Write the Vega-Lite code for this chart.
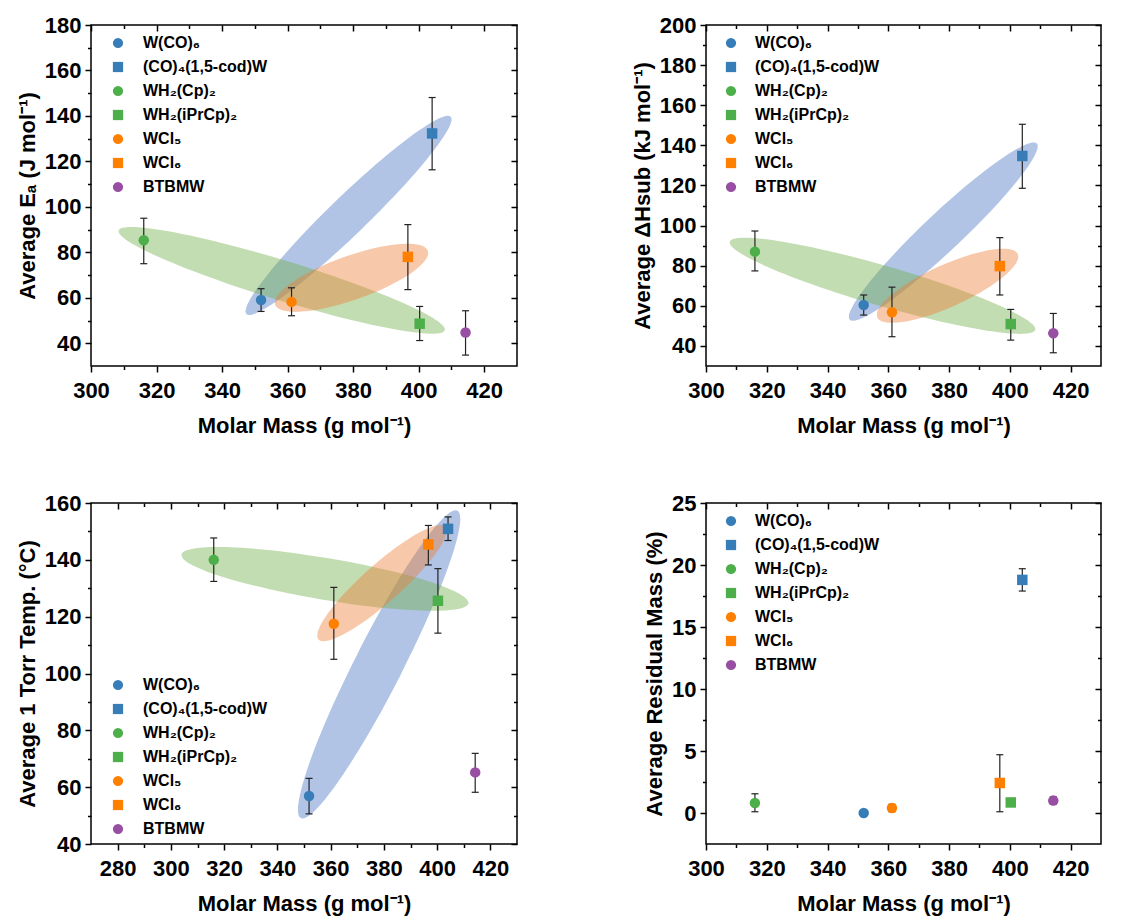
{
 "$schema": "https://vega.github.io/schema/vega-lite/v6.json",
 "background": "white",
 "padding": {"left": 15, "top": 13, "right": 5, "bottom": 5},
 "config": {
  "font": "Liberation Sans",
  "view": {"stroke": "black", "strokeWidth": 1.5},
  "axis": {"grid": false, "domain": false, "labelFont": "Liberation Sans", "labelFontSize": 22, "labelFontWeight": "bold", "labelColor": "black", "titleFont": "Liberation Sans", "titleFontSize": 22, "titleFontWeight": "bold", "titleColor": "black", "tickColor": "black", "tickWidth": 1.5, "labelFlush": false, "labelOverlap": false},
  "legend": {"title": null, "labelFont": "Liberation Sans", "labelFontSize": 16, "labelFontWeight": "bold", "labelColor": "black", "rowPadding": 8, "labelOffset": 17, "symbolSize": 105, "padding": 0, "symbolStrokeWidth": 0}
 },
 "datasets": {
  "pts": [
   {"panel": "Ea", "compound": "W(CO)₆", "mm": 351.9, "val": 59, "lo": 54, "hi": 64},
   {"panel": "Ea", "compound": "(CO)₄(1,5-cod)W", "mm": 404.1, "val": 132.3, "lo": 116.3, "hi": 148.1},
   {"panel": "Ea", "compound": "WH₂(Cp)₂", "mm": 316.1, "val": 85.3, "lo": 75, "hi": 95},
   {"panel": "Ea", "compound": "WH₂(iPrCp)₂", "mm": 400.3, "val": 48.6, "lo": 41.2, "hi": 56.2},
   {"panel": "Ea", "compound": "WCl₅", "mm": 361.2, "val": 58.2, "lo": 52.1, "hi": 64.4},
   {"panel": "Ea", "compound": "WCl₆", "mm": 396.7, "val": 78, "lo": 63.6, "hi": 92.2},
   {"panel": "Ea", "compound": "BTBMW", "mm": 414.3, "val": 44.7, "lo": 34.8, "hi": 54.3},
   {"panel": "dH", "compound": "W(CO)₆", "mm": 351.9, "val": 60.4, "lo": 55.4, "hi": 65.4},
   {"panel": "dH", "compound": "(CO)₄(1,5-cod)W", "mm": 404.1, "val": 134.7, "lo": 118.6, "hi": 150.5},
   {"panel": "dH", "compound": "WH₂(Cp)₂", "mm": 316.1, "val": 87, "lo": 77.4, "hi": 97.3},
   {"panel": "dH", "compound": "WH₂(iPrCp)₂", "mm": 400.3, "val": 50.9, "lo": 42.9, "hi": 58.2},
   {"panel": "dH", "compound": "WCl₅", "mm": 361.2, "val": 56.8, "lo": 44.6, "hi": 69.3},
   {"panel": "dH", "compound": "WCl₆", "mm": 396.7, "val": 79.8, "lo": 65.4, "hi": 94},
   {"panel": "dH", "compound": "BTBMW", "mm": 414.3, "val": 46.3, "lo": 36.6, "hi": 56.2},
   {"panel": "Torr", "compound": "W(CO)₆", "mm": 351.9, "val": 56.9, "lo": 50.6, "hi": 63.1},
   {"panel": "Torr", "compound": "(CO)₄(1,5-cod)W", "mm": 404.1, "val": 150.9, "lo": 146.8, "hi": 155.1},
   {"panel": "Torr", "compound": "WH₂(Cp)₂", "mm": 316.1, "val": 140, "lo": 132.4, "hi": 147.7},
   {"panel": "Torr", "compound": "WH₂(iPrCp)₂", "mm": 400.3, "val": 125.6, "lo": 114.2, "hi": 136.9},
   {"panel": "Torr", "compound": "WCl₅", "mm": 361.2, "val": 117.5, "lo": 105, "hi": 130.3},
   {"panel": "Torr", "compound": "WCl₆", "mm": 396.7, "val": 145.4, "lo": 138.2, "hi": 152.1},
   {"panel": "Torr", "compound": "BTBMW", "mm": 414.3, "val": 65.2, "lo": 58.2, "hi": 71.9},
   {"panel": "Res", "compound": "W(CO)₆", "mm": 351.9, "val": 0, "lo": 0, "hi": 0},
   {"panel": "Res", "compound": "(CO)₄(1,5-cod)W", "mm": 404.1, "val": 18.8, "lo": 17.9, "hi": 19.7},
   {"panel": "Res", "compound": "WH₂(Cp)₂", "mm": 316.1, "val": 0.8, "lo": 0.1, "hi": 1.55},
   {"panel": "Res", "compound": "WH₂(iPrCp)₂", "mm": 400.3, "val": 0.85, "lo": 0.65, "hi": 1.05},
   {"panel": "Res", "compound": "WCl₅", "mm": 361.2, "val": 0.4, "lo": 0.1, "hi": 0.7},
   {"panel": "Res", "compound": "WCl₆", "mm": 396.7, "val": 2.42, "lo": 0.1, "hi": 4.7},
   {"panel": "Res", "compound": "BTBMW", "mm": 414.3, "val": 1.0, "lo": 0.7, "hi": 1.3}
  ],
  "ell": [
   {"panel": "Ea", "group": "carbonyl", "cx": 378.6, "cy": 96.3},
   {"panel": "Ea", "group": "hydride", "cx": 358.2, "cy": 67.7},
   {"panel": "Ea", "group": "chloride", "cx": 379.5, "cy": 68.8},
   {"panel": "dH", "group": "carbonyl", "cx": 378.1, "cy": 97},
   {"panel": "dH", "group": "hydride", "cx": 358.1, "cy": 70},
   {"panel": "dH", "group": "chloride", "cx": 379.5, "cy": 70},
   {"panel": "Torr", "group": "carbonyl", "cx": 378.2, "cy": 103.2},
   {"panel": "Torr", "group": "hydride", "cx": 357.9, "cy": 133.3},
   {"panel": "Torr", "group": "chloride", "cx": 379.3, "cy": 131.8}
  ]
 },
 "columns": 2,
 "spacing": {"row": 137, "column": 189},
 "bounds": "flush",
 "align": "each",
 "resolve": {"scale": {"x": "independent", "y": "independent", "color": "independent", "shape": "independent"}, "legend": {"color": "independent", "shape": "independent"}},
 "concat": [
  {
   "width": 426, "height": 341,
   "resolve": {"axis": {"x": "independent", "y": "independent"}},
   "layer": [
    {"data": {"name": "ell"}, "transform": [{"filter": "datum.panel==='Ea' && datum.group==='carbonyl'"}],
     "mark": {"type": "point", "shape": "M 1 0 C 1 0.074 0.5523 0.134 0 0.134 C -0.5523 0.134 -1 0.074 -1 0 C -1 -0.074 -0.5523 -0.134 0 -0.134 C 0.5523 -0.134 1 -0.074 1 0 Z", "size": 80656, "angle": 316, "filled": true, "color": "#4472C4", "opacity": 0.42, "strokeWidth": 0},
     "encoding": {"x": {"field": "cx", "type": "quantitative", "scale": {"domain": [300, 430], "nice": false, "zero": false}, "axis": null}, "y": {"field": "cy", "type": "quantitative", "scale": {"domain": [30, 180], "nice": false, "zero": false}, "axis": null}}},
    {"data": {"name": "ell"}, "transform": [{"filter": "datum.panel==='Ea' && datum.group==='hydride'"}],
     "mark": {"type": "point", "shape": "M 1 0 C 1 0.0646 0.5523 0.117 0 0.117 C -0.5523 0.117 -1 0.0646 -1 0 C -1 -0.0646 -0.5523 -0.117 0 -0.117 C 0.5523 -0.117 1 -0.0646 1 0 Z", "size": 116281, "angle": 17, "filled": true, "color": "#70AD47", "opacity": 0.42, "strokeWidth": 0},
     "encoding": {"x": {"field": "cx", "type": "quantitative", "axis": null}, "y": {"field": "cy", "type": "quantitative", "axis": null}}},
    {"data": {"name": "ell"}, "transform": [{"filter": "datum.panel==='Ea' && datum.group==='chloride'"}],
     "mark": {"type": "point", "shape": "M 1 0 C 1 0.1502 0.5523 0.272 0 0.272 C -0.5523 0.272 -1 0.1502 -1 0 C -1 -0.1502 -0.5523 -0.272 0 -0.272 C 0.5523 -0.272 1 -0.1502 1 0 Z", "size": 26244, "angle": 340.5, "filled": true, "color": "#ED7D31", "opacity": 0.42, "strokeWidth": 0},
     "encoding": {"x": {"field": "cx", "type": "quantitative", "axis": null}, "y": {"field": "cy", "type": "quantitative", "axis": null}}},
    {"data": {"name": "pts"}, "transform": [{"filter": "datum.panel==='Ea'"}],
     "mark": {"type": "rule", "color": "#222", "strokeWidth": 1.2},
     "encoding": {"x": {"field": "mm", "type": "quantitative", "axis": {"orient": "top", "values": [300, 320, 340, 360, 380, 400, 420], "tickSize": -6, "labels": false, "title": null}},
                  "y": {"field": "lo", "type": "quantitative", "axis": {"orient": "right", "values": [40, 60, 80, 100, 120, 140, 160, 180], "tickSize": -6, "labels": false, "title": null}},
                  "y2": {"field": "hi"}}},
    {"data": {"name": "pts"}, "transform": [{"filter": "datum.panel==='Ea'"}],
     "mark": {"type": "point", "shape": "stroke", "size": 49, "filled": false, "color": "#222", "strokeWidth": 1.2, "opacity": 1},
     "encoding": {"x": {"field": "mm", "type": "quantitative", "axis": {"orient": "bottom", "values": [310, 330, 350, 370, 390, 410], "tickSize": 3.5, "labels": false, "title": null}},
                  "y": {"field": "lo", "type": "quantitative", "axis": {"orient": "left", "values": [50, 70, 90, 110, 130, 150, 170], "tickSize": 3.5, "labels": false, "title": null}}}},
    {"data": {"name": "pts"}, "transform": [{"filter": "datum.panel==='Ea'"}],
     "mark": {"type": "point", "shape": "stroke", "size": 49, "filled": false, "color": "#222", "strokeWidth": 1.2, "opacity": 1},
     "encoding": {"x": {"field": "mm", "type": "quantitative", "axis": {"orient": "top", "values": [310, 330, 350, 370, 390, 410], "tickSize": -3.5, "labels": false, "title": null}},
                  "y": {"field": "hi", "type": "quantitative", "axis": {"orient": "right", "values": [50, 70, 90, 110, 130, 150, 170], "tickSize": -3.5, "labels": false, "title": null}}}},
    {"data": {"name": "pts"}, "transform": [{"filter": "datum.panel==='Ea'"}],
     "mark": {"type": "point", "filled": true, "size": 110, "opacity": 1, "strokeWidth": 0},
     "encoding": {"x": {"field": "mm", "type": "quantitative", "axis": {"orient": "bottom", "values": [300, 320, 340, 360, 380, 400, 420], "tickSize": 6, "labelPadding": 8, "title": "Molar Mass (g mol⁻¹)", "titlePadding": 14}},
                  "y": {"field": "val", "type": "quantitative", "axis": {"orient": "left", "values": [40, 60, 80, 100, 120, 140, 160, 180], "tickSize": 6, "labelPadding": 4, "title": "Average Eₐ (J mol⁻¹)", "titlePadding": 5}},
                  "color": {"field": "compound", "type": "nominal", "scale": {"domain": ["W(CO)₆", "(CO)₄(1,5-cod)W", "WH₂(Cp)₂", "WH₂(iPrCp)₂", "WCl₅", "WCl₆", "BTBMW"], "range": ["#377eb8", "#377eb8", "#4daf4a", "#4daf4a", "#ff7f00", "#ff7f00", "#984ea3"]}, "legend": {"orient": "none", "legendX": 19, "legendY": 10}},
                  "shape": {"field": "compound", "type": "nominal", "scale": {"domain": ["W(CO)₆", "(CO)₄(1,5-cod)W", "WH₂(Cp)₂", "WH₂(iPrCp)₂", "WCl₅", "WCl₆", "BTBMW"], "range": ["circle", "square", "circle", "square", "circle", "square", "circle"]}, "legend": {"orient": "none", "legendX": 19, "legendY": 10}}}}
   ]
  },
  {
   "width": 395, "height": 341,
   "resolve": {"axis": {"x": "independent", "y": "independent"}},
   "layer": [
    {"data": {"name": "ell"}, "transform": [{"filter": "datum.panel==='dH' && datum.group==='carbonyl'"}],
     "mark": {"type": "point", "shape": "M 1 0 C 1 0.0817 0.5523 0.148 0 0.148 C -0.5523 0.148 -1 0.0817 -1 0 C -1 -0.0817 -0.5523 -0.148 0 -0.148 C 0.5523 -0.148 1 -0.0817 1 0 Z", "size": 66049, "angle": 316.7, "filled": true, "color": "#4472C4", "opacity": 0.42, "strokeWidth": 0},
     "encoding": {"x": {"field": "cx", "type": "quantitative", "scale": {"domain": [300, 430], "nice": false, "zero": false}, "axis": null}, "y": {"field": "cy", "type": "quantitative", "scale": {"domain": [30, 200], "nice": false, "zero": false}, "axis": null}}},
    {"data": {"name": "ell"}, "transform": [{"filter": "datum.panel==='dH' && datum.group==='hydride'"}],
     "mark": {"type": "point", "shape": "M 1 0 C 1 0.0696 0.5523 0.126 0 0.126 C -0.5523 0.126 -1 0.0696 -1 0 C -1 -0.0696 -0.5523 -0.126 0 -0.126 C 0.5523 -0.126 1 -0.0696 1 0 Z", "size": 101124, "angle": 16.1, "filled": true, "color": "#70AD47", "opacity": 0.42, "strokeWidth": 0},
     "encoding": {"x": {"field": "cx", "type": "quantitative", "axis": null}, "y": {"field": "cy", "type": "quantitative", "axis": null}}},
    {"data": {"name": "ell"}, "transform": [{"filter": "datum.panel==='dH' && datum.group==='chloride'"}],
     "mark": {"type": "point", "shape": "M 1 0 C 1 0.1508 0.5523 0.273 0 0.273 C -0.5523 0.273 -1 0.1508 -1 0 C -1 -0.1508 -0.5523 -0.273 0 -0.273 C 0.5523 -0.273 1 -0.1508 1 0 Z", "size": 23716, "angle": 335.7, "filled": true, "color": "#ED7D31", "opacity": 0.42, "strokeWidth": 0},
     "encoding": {"x": {"field": "cx", "type": "quantitative", "axis": null}, "y": {"field": "cy", "type": "quantitative", "axis": null}}},
    {"data": {"name": "pts"}, "transform": [{"filter": "datum.panel==='dH'"}],
     "mark": {"type": "rule", "color": "#222", "strokeWidth": 1.2},
     "encoding": {"x": {"field": "mm", "type": "quantitative", "axis": {"orient": "top", "values": [300, 320, 340, 360, 380, 400, 420], "tickSize": -6, "labels": false, "title": null}},
                  "y": {"field": "lo", "type": "quantitative", "axis": {"orient": "right", "values": [40, 60, 80, 100, 120, 140, 160, 180, 200], "tickSize": -6, "labels": false, "title": null}},
                  "y2": {"field": "hi"}}},
    {"data": {"name": "pts"}, "transform": [{"filter": "datum.panel==='dH'"}],
     "mark": {"type": "point", "shape": "stroke", "size": 49, "filled": false, "color": "#222", "strokeWidth": 1.2, "opacity": 1},
     "encoding": {"x": {"field": "mm", "type": "quantitative", "axis": {"orient": "bottom", "values": [310, 330, 350, 370, 390, 410], "tickSize": 3.5, "labels": false, "title": null}},
                  "y": {"field": "lo", "type": "quantitative", "axis": {"orient": "left", "values": [50, 70, 90, 110, 130, 150, 170, 190], "tickSize": 3.5, "labels": false, "title": null}}}},
    {"data": {"name": "pts"}, "transform": [{"filter": "datum.panel==='dH'"}],
     "mark": {"type": "point", "shape": "stroke", "size": 49, "filled": false, "color": "#222", "strokeWidth": 1.2, "opacity": 1},
     "encoding": {"x": {"field": "mm", "type": "quantitative", "axis": {"orient": "top", "values": [310, 330, 350, 370, 390, 410], "tickSize": -3.5, "labels": false, "title": null}},
                  "y": {"field": "hi", "type": "quantitative", "axis": {"orient": "right", "values": [50, 70, 90, 110, 130, 150, 170, 190], "tickSize": -3.5, "labels": false, "title": null}}}},
    {"data": {"name": "pts"}, "transform": [{"filter": "datum.panel==='dH'"}],
     "mark": {"type": "point", "filled": true, "size": 110, "opacity": 1, "strokeWidth": 0},
     "encoding": {"x": {"field": "mm", "type": "quantitative", "axis": {"orient": "bottom", "values": [300, 320, 340, 360, 380, 400, 420], "tickSize": 6, "labelPadding": 8, "title": "Molar Mass (g mol⁻¹)", "titlePadding": 14}},
                  "y": {"field": "val", "type": "quantitative", "axis": {"orient": "left", "values": [40, 60, 80, 100, 120, 140, 160, 180, 200], "tickSize": 6, "labelPadding": 4, "title": "Average ΔHsub (kJ mol⁻¹)", "titlePadding": 5}},
                  "color": {"field": "compound", "type": "nominal", "scale": {"domain": ["W(CO)₆", "(CO)₄(1,5-cod)W", "WH₂(Cp)₂", "WH₂(iPrCp)₂", "WCl₅", "WCl₆", "BTBMW"], "range": ["#377eb8", "#377eb8", "#4daf4a", "#4daf4a", "#ff7f00", "#ff7f00", "#984ea3"]}, "legend": {"orient": "none", "legendX": 17, "legendY": 10, "labelOffset": 16}},
                  "shape": {"field": "compound", "type": "nominal", "scale": {"domain": ["W(CO)₆", "(CO)₄(1,5-cod)W", "WH₂(Cp)₂", "WH₂(iPrCp)₂", "WCl₅", "WCl₆", "BTBMW"], "range": ["circle", "square", "circle", "square", "circle", "square", "circle"]}, "legend": {"orient": "none", "legendX": 17, "legendY": 10, "labelOffset": 16}}}}
   ]
  },
  {
   "width": 426, "height": 341,
   "resolve": {"axis": {"x": "independent", "y": "independent"}},
   "layer": [
    {"data": {"name": "ell"}, "transform": [{"filter": "datum.panel==='Torr' && datum.group==='carbonyl'"}],
     "mark": {"type": "point", "shape": "M 1 0 C 1 0.0768 0.5523 0.139 0 0.139 C -0.5523 0.139 -1 0.0768 -1 0 C -1 -0.0768 -0.5523 -0.139 0 -0.139 C 0.5523 -0.139 1 -0.0768 1 0 Z", "size": 119025, "angle": 297, "filled": true, "color": "#4472C4", "opacity": 0.42, "strokeWidth": 0},
     "encoding": {"x": {"field": "cx", "type": "quantitative", "scale": {"domain": [270, 430], "nice": false, "zero": false}, "axis": null}, "y": {"field": "cy", "type": "quantitative", "scale": {"domain": [40, 160], "nice": false, "zero": false}, "axis": null}}},
    {"data": {"name": "ell"}, "transform": [{"filter": "datum.panel==='Torr' && datum.group==='hydride'"}],
     "mark": {"type": "point", "shape": "M 1 0 C 1 0.0795 0.5523 0.144 0 0.144 C -0.5523 0.144 -1 0.0795 -1 0 C -1 -0.0795 -0.5523 -0.144 0 -0.144 C 0.5523 -0.144 1 -0.0795 1 0 Z", "size": 84681, "angle": 9.6, "filled": true, "color": "#70AD47", "opacity": 0.42, "strokeWidth": 0},
     "encoding": {"x": {"field": "cx", "type": "quantitative", "axis": null}, "y": {"field": "cy", "type": "quantitative", "axis": null}}},
    {"data": {"name": "ell"}, "transform": [{"filter": "datum.panel==='Torr' && datum.group==='chloride'"}],
     "mark": {"type": "point", "shape": "M 1 0 C 1 0.1237 0.5523 0.224 0 0.224 C -0.5523 0.224 -1 0.1237 -1 0 C -1 -0.1237 -0.5523 -0.224 0 -0.224 C 0.5523 -0.224 1 -0.1237 1 0 Z", "size": 28900, "angle": 318.4, "filled": true, "color": "#ED7D31", "opacity": 0.42, "strokeWidth": 0},
     "encoding": {"x": {"field": "cx", "type": "quantitative", "axis": null}, "y": {"field": "cy", "type": "quantitative", "axis": null}}},
    {"data": {"name": "pts"}, "transform": [{"filter": "datum.panel==='Torr'"}],
     "mark": {"type": "rule", "color": "#222", "strokeWidth": 1.2},
     "encoding": {"x": {"field": "mm", "type": "quantitative", "axis": {"orient": "top", "values": [280, 300, 320, 340, 360, 380, 400, 420], "tickSize": -6, "labels": false, "title": null}},
                  "y": {"field": "lo", "type": "quantitative", "axis": {"orient": "right", "values": [40, 60, 80, 100, 120, 140, 160], "tickSize": -6, "labels": false, "title": null}},
                  "y2": {"field": "hi"}}},
    {"data": {"name": "pts"}, "transform": [{"filter": "datum.panel==='Torr'"}],
     "mark": {"type": "point", "shape": "stroke", "size": 49, "filled": false, "color": "#222", "strokeWidth": 1.2, "opacity": 1},
     "encoding": {"x": {"field": "mm", "type": "quantitative", "axis": {"orient": "bottom", "values": [290, 310, 330, 350, 370, 390, 410], "tickSize": 3.5, "labels": false, "title": null}},
                  "y": {"field": "lo", "type": "quantitative", "axis": {"orient": "left", "values": [50, 70, 90, 110, 130, 150], "tickSize": 3.5, "labels": false, "title": null}}}},
    {"data": {"name": "pts"}, "transform": [{"filter": "datum.panel==='Torr'"}],
     "mark": {"type": "point", "shape": "stroke", "size": 49, "filled": false, "color": "#222", "strokeWidth": 1.2, "opacity": 1},
     "encoding": {"x": {"field": "mm", "type": "quantitative", "axis": {"orient": "top", "values": [290, 310, 330, 350, 370, 390, 410], "tickSize": -3.5, "labels": false, "title": null}},
                  "y": {"field": "hi", "type": "quantitative", "axis": {"orient": "right", "values": [50, 70, 90, 110, 130, 150], "tickSize": -3.5, "labels": false, "title": null}}}},
    {"data": {"name": "pts"}, "transform": [{"filter": "datum.panel==='Torr'"}],
     "mark": {"type": "point", "filled": true, "size": 110, "opacity": 1, "strokeWidth": 0},
     "encoding": {"x": {"field": "mm", "type": "quantitative", "axis": {"orient": "bottom", "values": [280, 300, 320, 340, 360, 380, 400, 420], "tickSize": 6, "labelPadding": 8, "title": "Molar Mass (g mol⁻¹)", "titlePadding": 14}},
                  "y": {"field": "val", "type": "quantitative", "axis": {"orient": "left", "values": [40, 60, 80, 100, 120, 140, 160], "tickSize": 6, "labelPadding": 4, "title": "Average 1 Torr Temp. (°C)", "titlePadding": 5}},
                  "color": {"field": "compound", "type": "nominal", "scale": {"domain": ["W(CO)₆", "(CO)₄(1,5-cod)W", "WH₂(Cp)₂", "WH₂(iPrCp)₂", "WCl₅", "WCl₆", "BTBMW"], "range": ["#377eb8", "#377eb8", "#4daf4a", "#4daf4a", "#ff7f00", "#ff7f00", "#984ea3"]}, "legend": {"orient": "none", "legendX": 19, "legendY": 174}},
                  "shape": {"field": "compound", "type": "nominal", "scale": {"domain": ["W(CO)₆", "(CO)₄(1,5-cod)W", "WH₂(Cp)₂", "WH₂(iPrCp)₂", "WCl₅", "WCl₆", "BTBMW"], "range": ["circle", "square", "circle", "square", "circle", "square", "circle"]}, "legend": {"orient": "none", "legendX": 19, "legendY": 174}}}}
   ]
  },
  {
   "width": 395, "height": 341,
   "resolve": {"axis": {"x": "independent", "y": "independent"}},
   "layer": [
    {"data": {"name": "pts"}, "transform": [{"filter": "datum.panel==='Res'"}],
     "mark": {"type": "rule", "color": "#222", "strokeWidth": 1.2},
     "encoding": {"x": {"field": "mm", "type": "quantitative", "scale": {"domain": [300, 430], "nice": false, "zero": false}, "axis": {"orient": "top", "values": [300, 320, 340, 360, 380, 400, 420], "tickSize": -6, "labels": false, "title": null}},
                  "y": {"field": "lo", "type": "quantitative", "scale": {"domain": [-2.5, 25], "nice": false, "zero": false}, "axis": {"orient": "right", "values": [0, 5, 10, 15, 20, 25], "tickSize": -6, "labels": false, "title": null}},
                  "y2": {"field": "hi"}}},
    {"data": {"name": "pts"}, "transform": [{"filter": "datum.panel==='Res'"}],
     "mark": {"type": "point", "shape": "stroke", "size": 49, "filled": false, "color": "#222", "strokeWidth": 1.2, "opacity": 1},
     "encoding": {"x": {"field": "mm", "type": "quantitative", "axis": {"orient": "bottom", "values": [310, 330, 350, 370, 390, 410], "tickSize": 3.5, "labels": false, "title": null}},
                  "y": {"field": "lo", "type": "quantitative", "axis": {"orient": "left", "values": [2.5, 7.5, 12.5, 17.5, 22.5], "tickSize": 3.5, "labels": false, "title": null}}}},
    {"data": {"name": "pts"}, "transform": [{"filter": "datum.panel==='Res'"}],
     "mark": {"type": "point", "shape": "stroke", "size": 49, "filled": false, "color": "#222", "strokeWidth": 1.2, "opacity": 1},
     "encoding": {"x": {"field": "mm", "type": "quantitative", "axis": {"orient": "top", "values": [310, 330, 350, 370, 390, 410], "tickSize": -3.5, "labels": false, "title": null}},
                  "y": {"field": "hi", "type": "quantitative", "axis": {"orient": "right", "values": [2.5, 7.5, 12.5, 17.5, 22.5], "tickSize": -3.5, "labels": false, "title": null}}}},
    {"data": {"name": "pts"}, "transform": [{"filter": "datum.panel==='Res'"}],
     "mark": {"type": "point", "filled": true, "size": 110, "opacity": 1, "strokeWidth": 0},
     "encoding": {"x": {"field": "mm", "type": "quantitative", "axis": {"orient": "bottom", "values": [300, 320, 340, 360, 380, 400, 420], "tickSize": 6, "labelPadding": 8, "title": "Molar Mass (g mol⁻¹)", "titlePadding": 14}},
                  "y": {"field": "val", "type": "quantitative", "axis": {"orient": "left", "values": [0, 5, 10, 15, 20, 25], "tickSize": 6, "labelPadding": 4, "title": "Average Residual Mass (%)", "titlePadding": 5}},
                  "color": {"field": "compound", "type": "nominal", "scale": {"domain": ["W(CO)₆", "(CO)₄(1,5-cod)W", "WH₂(Cp)₂", "WH₂(iPrCp)₂", "WCl₅", "WCl₆", "BTBMW"], "range": ["#377eb8", "#377eb8", "#4daf4a", "#4daf4a", "#ff7f00", "#ff7f00", "#984ea3"]}, "legend": {"orient": "none", "legendX": 17, "legendY": 10, "labelOffset": 16}},
                  "shape": {"field": "compound", "type": "nominal", "scale": {"domain": ["W(CO)₆", "(CO)₄(1,5-cod)W", "WH₂(Cp)₂", "WH₂(iPrCp)₂", "WCl₅", "WCl₆", "BTBMW"], "range": ["circle", "square", "circle", "square", "circle", "square", "circle"]}, "legend": {"orient": "none", "legendX": 17, "legendY": 10, "labelOffset": 16}}}}
   ]
  }
 ]
}
